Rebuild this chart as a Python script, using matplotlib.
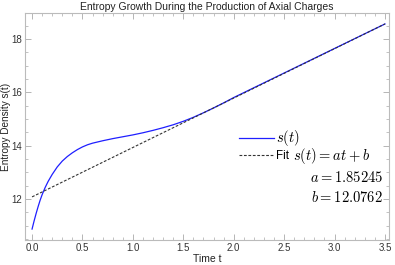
import numpy as np
import matplotlib
matplotlib.use("Agg")
import matplotlib.pyplot as plt
from matplotlib.ticker import MultipleLocator

# values
t = [0.0, 0.02, 0.04, 0.06, 0.08, 0.1, 0.13, 0.16, 0.2, 0.25, 0.3, 0.35,
     0.4, 0.45, 0.5, 0.55, 0.6, 0.7, 0.8, 0.9, 1.0, 1.1, 1.2, 1.3, 1.4,
     1.5, 1.6, 1.7, 1.8, 1.9, 2.0, 2.5, 3.0, 3.5]
s = [10.87, 11.17, 11.45, 11.71, 11.95, 12.16, 12.43, 12.66, 12.92, 13.20,
     13.42, 13.59, 13.73, 13.85, 13.95, 14.03, 14.09, 14.18, 14.26, 14.33,
     14.40, 14.48, 14.57, 14.67, 14.78, 14.91, 15.06, 15.23, 15.41, 15.60,
     15.80, 16.72, 17.64, 18.56]
a_fit = 1.85245
b_fit = 12.0762
t_fit = [0.0, 3.5]

plt.rcParams['font.family'] = ['Liberation Sans', 'DejaVu Sans']
plt.rcParams['mathtext.fontset'] = 'cm'

fig = plt.figure(figsize=(3.95, 2.65), dpi=100)
ax = fig.add_axes([25 / 395, 25 / 265, 364 / 395, 227 / 265])

ax.plot(t, s, color='#1f1fff', lw=0.9, label='$s(t)$')
ax.plot(t_fit, [a_fit * x + b_fit for x in t_fit], color='#333333', lw=0.8,
        ls=(0, (2.5, 1.5)), label='Fit')

ax.set_xlim(-0.07, 3.54)
ax.set_ylim(10.46, 18.97)
ax.xaxis.set_major_locator(MultipleLocator(0.5))
ax.xaxis.set_minor_locator(MultipleLocator(0.1))
ax.yaxis.set_major_locator(MultipleLocator(2))
ax.yaxis.set_minor_locator(MultipleLocator(0.5))
ax.xaxis.set_major_formatter(lambda v, p: f'{v:.1f}')
ax.tick_params(which='both', direction='in', top=True, right=True,
               color='#aaaaaa', labelsize=7, labelcolor='#333333', pad=2)
ax.tick_params(which='major', length=4, width=0.6)
ax.tick_params(which='minor', length=2, width=0.5)
for sp in ax.spines.values():
    sp.set_color('#bbbbbb')
    sp.set_linewidth(0.8)

ax.set_title('Entropy Growth During the Production of Axial Charges',
             fontsize=7.5, pad=2, color='#222222')
ax.set_xlabel('Time t', fontsize=7.5, labelpad=1, color='#222222')
ax.set_ylabel('Entropy Density s(t)', fontsize=7.2, color='#222222')
ax.yaxis.set_label_coords((11 - 25) / 364, 0.5)

leg = ax.legend(loc='upper left', bbox_to_anchor=(239 / 395, 1 - 128 / 265),
                bbox_transform=fig.transFigure, frameon=False, fontsize=8.3,
                handlelength=3.0, handletextpad=0.25, borderpad=0,
                borderaxespad=0, labelspacing=0.15)
leg.get_texts()[0].set_fontsize(10.5)
ax.text(293 / 395, 1 - 156 / 265, '$s(t) = at + b$', transform=fig.transFigure,
        ha='left', va='center', fontsize=10.5)
ax.text(383 / 395, 1 - 177 / 265, f'$a = {a_fit}$', transform=fig.transFigure,
        ha='right', va='center', fontsize=10.5)
ax.text(383 / 395, 1 - 197 / 265, f'$b = {b_fit}$', transform=fig.transFigure,
        ha='right', va='center', fontsize=10.5)

fig.savefig('out.png', dpi=100)
